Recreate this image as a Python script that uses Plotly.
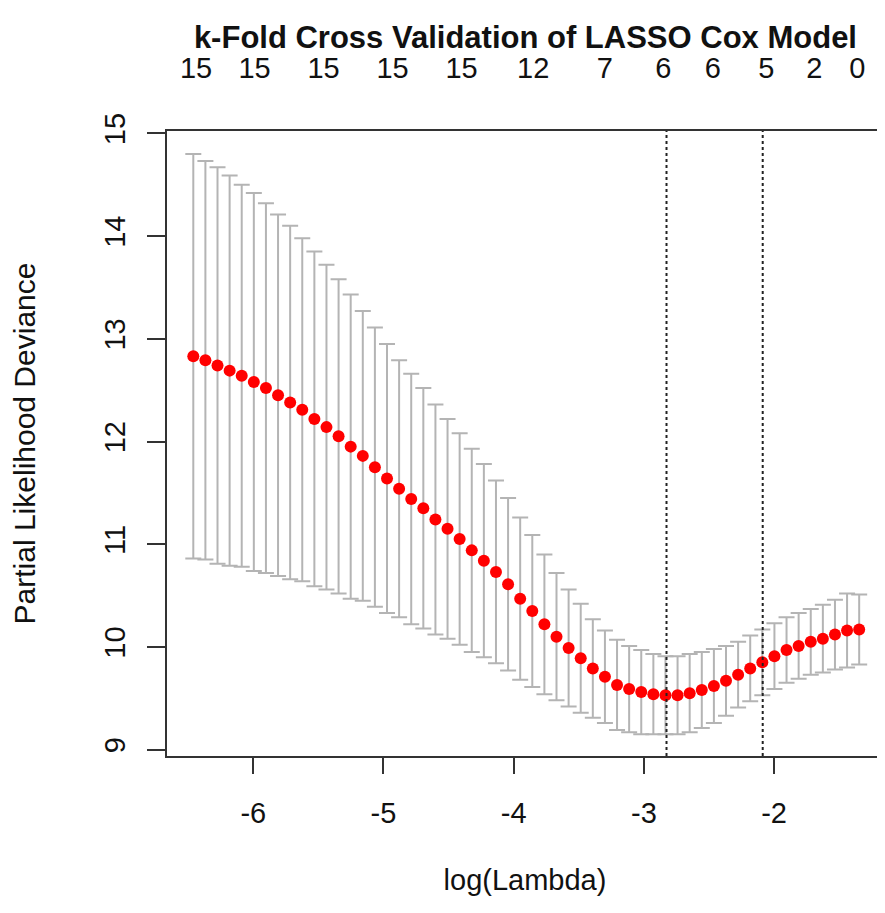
import plotly.graph_objects as go

log_lambda = [round(-6.461 + i * 0.0930, 3) for i in range(56)]
mean_dev = [12.83, 12.79, 12.74, 12.69, 12.64, 12.58, 12.52, 12.45, 12.38, 12.31,
            12.22, 12.14, 12.05, 11.95, 11.86, 11.75, 11.64, 11.54, 11.44, 11.35,
            11.24, 11.15, 11.05, 10.94, 10.84, 10.73, 10.61, 10.47, 10.35, 10.22,
            10.10, 9.99, 9.89, 9.79, 9.71, 9.63, 9.59, 9.56, 9.54, 9.53,
            9.53, 9.55, 9.58, 9.62, 9.67, 9.73, 9.79, 9.85, 9.91, 9.97,
            10.01, 10.05, 10.08, 10.12, 10.16, 10.17]
se_dev = [1.97, 1.94, 1.93, 1.90, 1.86, 1.84, 1.80, 1.76, 1.72, 1.67,
          1.63, 1.58, 1.53, 1.48, 1.41, 1.36, 1.31, 1.25, 1.22, 1.17,
          1.12, 1.07, 1.03, 0.99, 0.94, 0.89, 0.84, 0.79, 0.74, 0.68,
          0.62, 0.57, 0.53, 0.48, 0.45, 0.44, 0.42, 0.41, 0.39, 0.38,
          0.38, 0.38, 0.37, 0.36, 0.34, 0.32, 0.32, 0.32, 0.32, 0.32,
          0.32, 0.32, 0.33, 0.34, 0.36, 0.34]
lambda_min = -2.826
lambda_1se = -2.087
top_pos = [-6.44, -5.99, -5.46, -4.93, -4.40, -3.85, -3.30, -2.85, -2.47, -2.06, -1.69, -1.36]
top_labels = ["15", "15", "15", "15", "15", "12", "7", "6", "6", "5", "2", "0"]
x_ticks = [-6, -5, -4, -3, -2]
y_ticks = [9, 10, 11, 12, 13, 14, 15]

xr = [-6.663, -1.163]
yr = [8.938, 15.023]
font = "Liberation Sans, Arial, sans-serif"

fig = go.Figure()
fig.add_trace(go.Scatter(
    x=log_lambda, y=mean_dev, mode="markers",
    marker=dict(color="#ff0000", size=12),
    error_y=dict(type="data", array=se_dev, color="#b4b4b4", thickness=2, width=8),
    showlegend=False))
fig.add_trace(go.Scatter(x=top_pos, y=[None]*len(top_pos), xaxis="x2", showlegend=False))

for v in [lambda_min, lambda_1se]:
    fig.add_shape(type="line", x0=v, x1=v, y0=0, y1=1, xref="x", yref="paper",
                  line=dict(color="#222", width=2, dash="dot"))

fig.update_layout(
    width=877, height=905, margin=dict(l=159, r=2, t=123, b=157, autoexpand=False),
    plot_bgcolor="white", paper_bgcolor="white",
    font=dict(family=font, size=29, color="#111"),
    title=dict(text="<b>k-Fold Cross Validation of LASSO Cox Model</b>", x=0.59, xanchor="center",
               y=0.968, yanchor="middle", font=dict(size=31, color="#111")),
    xaxis=dict(range=xr, tickvals=x_ticks, ticktext=[str(t) for t in x_ticks], automargin=False,
               showgrid=False, zeroline=False, showline=True, mirror=True,
               linecolor="#333", linewidth=2, ticks="outside", ticklen=16, tickwidth=2,
               tickcolor="#333", ticklabelstandoff=14,
               title=dict(text="log(Lambda)", standoff=42, font=dict(size=29))),
    xaxis2=dict(range=xr, overlaying="x", side="top", tickvals=top_pos, ticktext=top_labels,
                automargin=False, showgrid=False, zeroline=False, showline=False, ticks="",
                ticklabelstandoff=46),
    yaxis=dict(range=yr, tickvals=y_ticks, ticktext=[str(t) for t in y_ticks], automargin=False,
               tickangle=-90, showgrid=False, zeroline=False, showline=True, mirror=True,
               linecolor="#333", linewidth=2, ticks="outside", ticklen=18, tickwidth=2,
               tickcolor="#333", ticklabelstandoff=10,
               title=dict(text="Partial Likelihood Deviance", standoff=62, font=dict(size=30))),
)
fig.write_html("out.html")
